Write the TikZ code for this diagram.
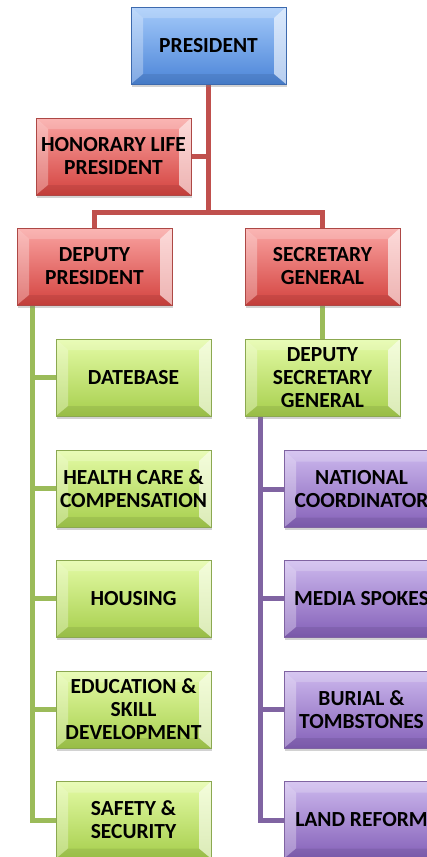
\documentclass[tikz,border=0pt]{standalone}
\usepackage{fontspec}
\setmainfont{Carlito}
\usepackage{tikz}
\usetikzlibrary{calc,shadows}
\definecolor{blueTop}{HTML}{A4CAFA}
\definecolor{blueBot}{HTML}{4C85D8}
\definecolor{blueLine}{HTML}{3D6AAE}
\definecolor{redTop}{HTML}{FAA3A1}
\definecolor{redBot}{HTML}{D3433F}
\definecolor{redLine}{HTML}{C0504D}
\definecolor{greenTop}{HTML}{E4FBA6}
\definecolor{greenBot}{HTML}{A6CE4C}
\definecolor{greenLine}{HTML}{9BBB59}
\definecolor{purpleTop}{HTML}{CDB9EE}
\definecolor{purpleBot}{HTML}{8460B8}
\definecolor{purpleLine}{HTML}{8064A2}
\tikzstyle{unit}=[rectangle, minimum width=155pt, minimum height=77pt, inner sep=0pt,
  align=center, font=\fontsize{21.5}{23}\selectfont\bfseries, line width=1pt,
  drop shadow={shadow xshift=1pt, shadow yshift=-2.5pt, opacity=0.35},
  path picture={
    \coordinate (nw) at (path picture bounding box.north west);
    \coordinate (ne) at (path picture bounding box.north east);
    \coordinate (sw) at (path picture bounding box.south west);
    \coordinate (se) at (path picture bounding box.south east);
    \fill[white, opacity=0.2] (nw) -- (ne) -- ($(ne)+(-12pt,-11pt)$) -- ($(nw)+(12pt,-11pt)$) -- cycle;
    \fill[white, opacity=0.3] (nw) -- ($(nw)+(12pt,-11pt)$) -- ($(sw)+(12pt,10pt)$) -- (sw) -- cycle;
    \fill[white, opacity=0.6] (ne) -- ($(ne)+(-12pt,-11pt)$) -- ($(se)+(-12pt,10pt)$) -- (se) -- cycle;
    \fill[black, opacity=0.08] (sw) -- (se) -- ($(se)+(-12pt,10pt)$) -- ($(sw)+(12pt,10pt)$) -- cycle;
  }]
\tikzstyle{bluebox}=[unit, draw=blueLine, top color=blueTop, bottom color=blueBot]
\tikzstyle{redbox}=[unit, draw=redLine!90!black, top color=redTop, bottom color=redBot]
\tikzstyle{greenbox}=[unit, draw=greenLine!90!black, top color=greenTop, bottom color=greenBot]
\tikzstyle{purplebox}=[unit, draw=purpleLine, top color=purpleTop, bottom color=purpleBot]
\tikzstyle{link}=[line width=5pt]
\begin{document}
\begin{tikzpicture}[x=1pt, y=-1pt]
  \clip (0,0) rectangle (427,857);
  \fill[white] (0,0) rectangle (427,857);
  \begin{scope}
    \coordinate (joint) at (208.5, 212);
    \coordinate (gtop) at (32, 305);
    \coordinate (ptop) at (260, 416);
  \end{scope}
  \begin{scope}
    \path[link, draw=redLine] (208.5, 84) -- (joint);
    \path[link, draw=redLine] (191, 156.5) -- (208.5, 156.5);
    \path[link, draw=redLine] (94.5, 228) |- (joint) -| (322.5, 228);
    \path[link, draw=greenLine] (322.5, 305) -- (322.5, 339);
    \path[link, draw=greenLine] (gtop) |- (56, 820);
    \foreach \y in {377.5, 488.5, 598.5, 709.5}
      \path[link, draw=greenLine] (gtop |- 0, \y) -- (56, \y);
    \path[link, draw=purpleLine] (ptop) |- (284, 820);
    \foreach \y in {489, 598.5, 709.5}
      \path[link, draw=purpleLine] (ptop |- 0, \y) -- (284, \y);
  \end{scope}
  \begin{scope}
    \node (president) at (208.5, 45.5)[bluebox] {PRESIDENT};
    \node (honorary) at (113.5, 156.5)[redbox] {HONORARY LIFE\\PRESIDENT};
    \node (deputy) at (94.5, 266.5)[redbox] {DEPUTY\\PRESIDENT};
    \node (secretary) at (322.5, 266.5)[redbox] {SECRETARY\\GENERAL};

    \node (database) at (133.5, 377.5)[greenbox] {DATEBASE};
    \node (health) at (133.5, 488.5)[greenbox] {HEALTH CARE \&\\COMPENSATION};
    \node (housing) at (133.5, 598.5)[greenbox] {HOUSING};
    \node (education) at (133.5, 709.5)[greenbox] {EDUCATION \&\\SKILL\\DEVELOPMENT};
    \node (safety) at (133.5, 820)[greenbox] {SAFETY \&\\SECURITY};
    \node (deputysec) at (322.5, 377.5)[greenbox] {DEPUTY\\SECRETARY\\GENERAL};

    \node (national) at (361.5, 489)[purplebox] {NATIONAL\\COORDINATOR};
    \node (media) at (361.5, 598.5)[purplebox] {MEDIA SPOKES};
    \node (burial) at (361.5, 709.5)[purplebox] {BURIAL \&\\TOMBSTONES};
    \node (land) at (361.5, 820)[purplebox] {LAND REFORM};
  \end{scope}
\end{tikzpicture}
\end{document}
